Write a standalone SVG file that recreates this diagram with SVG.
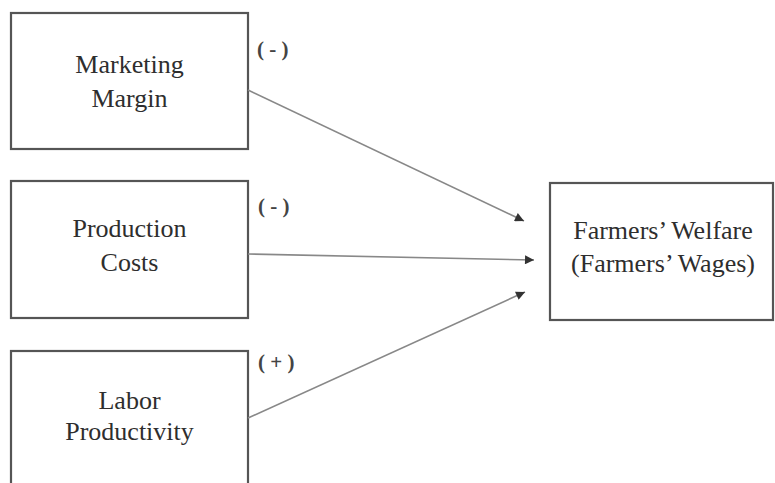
<svg xmlns="http://www.w3.org/2000/svg" width="775" height="483" viewBox="0 0 775 483">
<style>
.box{fill:#fff;stroke:#555;stroke-width:2.2}
.t{font-family:"Liberation Serif","Times New Roman",serif;font-size:26px;fill:#2e2e2e;text-anchor:middle}
.lbl{font-family:"Liberation Serif","Times New Roman",serif;font-size:21px;font-weight:bold;fill:#444}
.c{stroke:#888;stroke-width:1.6;fill:none;marker-end:url(#ah)}
</style>
<defs>
<marker id="ah" viewBox="0 0 10 10" refX="10" refY="5" markerWidth="10" markerHeight="9" markerUnits="userSpaceOnUse" orient="auto">
<path d="M0,0 L10,5 L0,10 z" fill="#333"/>
</marker>
</defs>
<rect width="775" height="483" fill="#fff"/>
<g id="marketing-margin">
<rect class="box" x="11" y="13" width="237" height="136"/>
<text class="t" x="129.5" y="73">Marketing</text>
<text class="t" x="129.5" y="107">Margin</text>
</g>
<g id="production-costs">
<rect class="box" x="11" y="181" width="237" height="137"/>
<text class="t" x="129.5" y="237">Production</text>
<text class="t" x="129.5" y="271">Costs</text>
</g>
<g id="labor-productivity">
<rect class="box" x="11" y="351" width="237" height="140"/>
<text class="t" x="129.5" y="409">Labor</text>
<text class="t" x="129.5" y="440">Productivity</text>
</g>
<g id="farmers-welfare">
<rect class="box" x="550" y="183" width="223" height="137"/>
<text class="t" x="663" y="239">Farmers’ Welfare</text>
<text class="t" x="663" y="272">(Farmers’ Wages)</text>
</g>
<g id="connectors">
<line class="c" x1="248" y1="90" x2="524" y2="221"/>
<line class="c" x1="248" y1="254" x2="534" y2="260"/>
<line class="c" x1="248" y1="418" x2="525" y2="292"/>
<text class="lbl" x="257" y="56">( - )</text>
<text class="lbl" x="258" y="213">( - )</text>
<text class="lbl" x="258" y="369">( + )</text>
</g>
</svg>
